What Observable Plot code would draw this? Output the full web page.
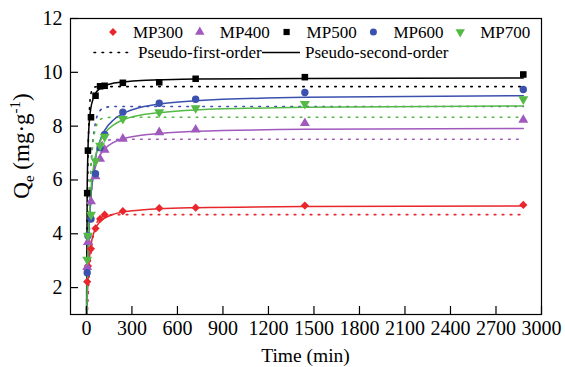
<!DOCTYPE html>
<html><head><meta charset="utf-8">
<script src="https://cdn.jsdelivr.net/npm/d3@7"></script>
<script src="https://cdn.jsdelivr.net/npm/@observablehq/plot@0.6"></script>
<style>body{margin:0;background:#fff}#chart svg{display:block}</style>
</head><body><div id="chart"></div><script>
// ---- data ----
const series = ["MP300", "MP400", "MP500", "MP600", "MP700"];
const colorList = ["#e8262b", "#a059bd", "#000000", "#3b51ad", "#55ba45"];
const times = [5, 10, 30, 60, 90, 120, 240, 480, 720, 1440, 2880];
const qMP300 = [2.22, 2.80, 3.44, 4.20, 4.55, 4.71, 4.84, 4.95, 4.97, 5.05, 5.07];
const qMP400 = [2.76, 3.69, 5.20, 6.13, 6.78, 7.12, 7.53, 7.77, 7.87, 8.11, 8.23];
const qMP500 = [5.51, 7.09, 8.33, 9.13, 9.48, 9.50, 9.61, 9.63, 9.76, 9.82, 9.92];
const qMP600 = [2.55, 3.93, 4.55, 6.23, 7.20, 7.69, 8.52, 8.85, 9.00, 9.25, 9.36];
const qMP700 = [3.04, 3.93, 4.71, 6.70, 7.28, 7.61, 8.27, 8.52, 8.67, 8.83, 9.00];
// fitted curves at these times
const fitTimes = [0, 5, 10, 20, 30, 45, 60, 90, 120, 180, 240, 360, 480, 720, 1440, 2880];
const psoMP300 = [0, 1.47, 2.27, 3.13, 3.59, 3.97, 4.20, 4.45, 4.58, 4.73, 4.81, 4.88, 4.93, 4.97, 5.01, 5.03];
const psoMP400 = [0, 2.16, 3.40, 4.76, 5.49, 6.13, 6.50, 6.92, 7.15, 7.40, 7.53, 7.66, 7.73, 7.81, 7.88, 7.91];
const psoMP500 = [0, 5.57, 7.10, 8.23, 8.70, 9.03, 9.22, 9.40, 9.50, 9.60, 9.64, 9.70, 9.72, 9.75, 9.77, 9.79];
const psoMP600 = [0, 1.78, 2.98, 4.50, 5.43, 6.28, 6.83, 7.47, 7.84, 8.24, 8.46, 8.70, 8.82, 8.94, 9.07, 9.13];
const psoMP700 = [0, 2.03, 3.30, 4.80, 5.66, 6.42, 6.89, 7.43, 7.73, 8.05, 8.23, 8.41, 8.50, 8.60, 8.70, 8.75];
const pfoMP300 = [0, 0.85, 1.55, 2.59, 3.30, 3.93, 4.28, 4.58, 4.67, 4.71, 4.71, 4.71, 4.71, 4.71, 4.71, 4.71];
const pfoMP400 = [0, 1.36, 2.48, 4.14, 5.25, 6.26, 6.82, 7.31, 7.45, 7.50, 7.51, 7.51, 7.51, 7.51, 7.51, 7.51];
const pfoMP500 = [0, 4.27, 6.62, 8.61, 9.21, 9.43, 9.46, 9.47, 9.47, 9.47, 9.47, 9.47, 9.47, 9.47, 9.47, 9.47];
const pfoMP600 = [0, 1.75, 3.16, 5.18, 6.47, 7.58, 8.14, 8.58, 8.69, 8.73, 8.73, 8.73, 8.73, 8.73, 8.73, 8.73];
const pfoMP700 = [0, 1.84, 3.28, 5.27, 6.47, 7.45, 7.91, 8.24, 8.31, 8.33, 8.33, 8.33, 8.33, 8.33, 8.33, 8.33];
const xTicks = [0, 300, 600, 900, 1200, 1500, 1800, 2100, 2400, 2700, 3000];
const yTicks = [2, 4, 6, 8, 10, 12];
const legendFit = ["Pseudo-first-order", "Pseudo-second-order"];
const xTitle = "Time (min)";

// ---- tables ----
const qAll = [qMP300, qMP400, qMP500, qMP600, qMP700];
const psoAll = [psoMP300, psoMP400, psoMP500, psoMP600, psoMP700];
const pfoAll = [pfoMP300, pfoMP400, pfoMP500, pfoMP600, pfoMP700];
const points = [], pso = [], pfo = [];
series.forEach((s, si) => {
  times.forEach((t, i) => points.push({series: s, t, q: qAll[si][i]}));
  fitTimes.forEach((t, i) => {
    pso.push({series: s, t, q: psoAll[si][i]});
    pfo.push({series: s, t, q: pfoAll[si][i]});
  });
});

const triDown = {draw(ctx, size) {
  const s3 = Math.sqrt(3);
  const y = -Math.sqrt(size / (s3 * 3));
  ctx.moveTo(0, -y * 2); ctx.lineTo(-s3 * y, y); ctx.lineTo(s3 * y, y); ctx.closePath();
}};
const symbolList = [d3.symbolDiamond2, d3.symbolTriangle, d3.symbolSquare, d3.symbolCircle, triDown];

const font = "'Liberation Serif', 'Times New Roman', serif";
const plot = Plot.plot({
  width: 565, height: 367,
  marginLeft: 70, marginRight: 24, marginTop: 18, marginBottom: 53,
  style: {fontFamily: font, fontSize: "20px", color: "#000", background: "#fff"},
  x: {domain: [-105, 3000]},
  y: {domain: [1, 12]},
  color: {domain: series, range: colorList},
  symbol: {domain: series, range: symbolList},
  marks: [
    Plot.line(pfo, {x: "t", y: "q", z: "series", stroke: "series", strokeWidth: 1.6,
      strokeDasharray: "1.6 6.4", strokeLinecap: "round", curve: "monotone-x", clip: true}),
    Plot.line(pso, {x: "t", y: "q", z: "series", stroke: "series", strokeWidth: 1.5,
      curve: "monotone-x", clip: true}),
    Plot.dot(points, {x: "t", y: "q", symbol: "series", fill: "series", stroke: null, r: 3.7}),
    Plot.axisX(xTicks, {tickSize: 6, tickPadding: 0, label: null, fontSize: 20, tickFormat: d3.format("d")}),
    Plot.axisY(yTicks, {tickSize: 8, tickPadding: 0, label: null, fontSize: 20, tickFormat: d3.format("d")}),
    Plot.frame({stroke: "#000", strokeWidth: 1.2})
  ]
});
document.getElementById("chart").appendChild(plot);

const svg = d3.select(plot);
svg.selectAll('g[aria-label="x-axis tick"] path').attr("d", "M0,0L0,-8").attr("stroke-width", 1.2);
svg.selectAll('g[aria-label="y-axis tick"] path').attr("d", "M0,0L8,0").attr("stroke-width", 1.2);

// legend
const leg = svg.append("g").attr("font-family", font).attr("font-size", 17)
  .attr("fill", "#000").attr("text-anchor", "start");
series.forEach((s, i) => {
  const sx = 113 + i * 86.8;
  leg.append("path").attr("transform", `translate(${sx},32)`)
    .attr("d", d3.symbol(symbolList[i], Math.PI * 3.5 * 3.5)())
    .attr("fill", colorList[i]);
  leg.append("text").attr("x", sx + 20).attr("y", 37.8).text(s);
});
leg.append("line").attr("x1", 94).attr("x2", 128).attr("y1", 52.5).attr("y2", 52.5)
  .attr("stroke", "#000").attr("stroke-width", 1.6).attr("stroke-dasharray", "1.6 6.4").attr("stroke-linecap", "round");
leg.append("text").attr("x", 138).attr("y", 58).text(legendFit[0]);
leg.append("line").attr("x1", 262).attr("x2", 300).attr("y1", 52.5).attr("y2", 52.5)
  .attr("stroke", "#000").attr("stroke-width", 1.5);
leg.append("text").attr("x", 305).attr("y", 58).text(legendFit[1]);

// axis titles
svg.append("text").attr("x", 305.5).attr("y", 362).attr("text-anchor", "middle")
  .attr("font-family", font).attr("font-size", 19.5).attr("fill", "#000").text(xTitle);
const yt = svg.append("text").attr("transform", "translate(29,146) rotate(-90)")
  .attr("text-anchor", "middle").attr("font-family", font).attr("font-size", 23).attr("fill", "#000");
yt.append("tspan").text("Q");
yt.append("tspan").attr("font-size", 15).attr("dy", 5).text("e");
yt.append("tspan").attr("dy", -5).text(" (mg·g");
yt.append("tspan").attr("font-size", 15).attr("dy", -9).text("-1");
yt.append("tspan").attr("dy", 9).text(")");
</script></body></html>
